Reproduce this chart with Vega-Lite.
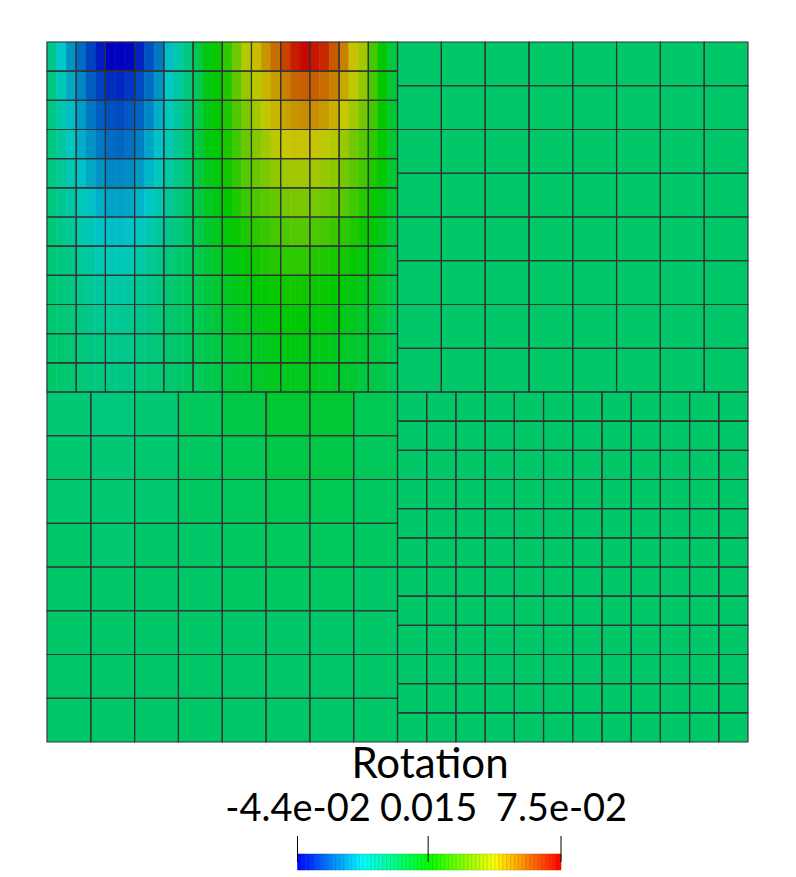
{"$schema":"https://vega.github.io/schema/vega-lite/v6.json","padding":{"left":46,"top":41,"right":0,"bottom":0},"background":"white","spacing":0,"resolve":{"scale":{"color":"independent"}},"config":{"view":{"stroke":null}},
"datasets":{
"fine":[
{"x0":0,"x1":2,"y0":0,"y1":6,"v":-0.005},{"x0":2,"x1":4,"y0":0,"y1":6,"v":-0.014},{"x0":4,"x1":6,"y0":0,"y1":6,"v":-0.022},{"x0":6,"x1":8,"y0":0,"y1":6,"v":-0.028},{"x0":8,"x1":10,"y0":0,"y1":6,"v":-0.034},{"x0":10,"x1":12,"y0":0,"y1":6,"v":-0.04},{"x0":12,"x1":14,"y0":0,"y1":6,"v":-0.044},{"x0":14,"x1":16,"y0":0,"y1":6,"v":-0.044},{"x0":16,"x1":18,"y0":0,"y1":6,"v":-0.043},{"x0":18,"x1":20,"y0":0,"y1":6,"v":-0.039},{"x0":20,"x1":22,"y0":0,"y1":6,"v":-0.032},{"x0":22,"x1":24,"y0":0,"y1":6,"v":-0.026},{"x0":24,"x1":26,"y0":0,"y1":6,"v":-0.016},{"x0":26,"x1":28,"y0":0,"y1":6,"v":-0.01},{"x0":28,"x1":30,"y0":0,"y1":6,"v":-0.004},{"x0":30,"x1":32,"y0":0,"y1":6,"v":0.004},{"x0":32,"x1":34,"y0":0,"y1":6,"v":0.013},{"x0":34,"x1":36,"y0":0,"y1":6,"v":0.017},{"x0":36,"x1":38,"y0":0,"y1":6,"v":0.022},{"x0":38,"x1":40,"y0":0,"y1":6,"v":0.032},{"x0":40,"x1":42,"y0":0,"y1":6,"v":0.042},{"x0":42,"x1":44,"y0":0,"y1":6,"v":0.047},{"x0":44,"x1":46,"y0":0,"y1":6,"v":0.053},{"x0":46,"x1":48,"y0":0,"y1":6,"v":0.059},{"x0":48,"x1":50,"y0":0,"y1":6,"v":0.065},{"x0":50,"x1":52,"y0":0,"y1":6,"v":0.071},{"x0":52,"x1":54,"y0":0,"y1":6,"v":0.074},{"x0":54,"x1":56,"y0":0,"y1":6,"v":0.072},{"x0":56,"x1":58,"y0":0,"y1":6,"v":0.069},{"x0":58,"x1":60,"y0":0,"y1":6,"v":0.062},{"x0":60,"x1":62,"y0":0,"y1":6,"v":0.056},{"x0":62,"x1":64,"y0":0,"y1":6,"v":0.046},{"x0":64,"x1":66,"y0":0,"y1":6,"v":0.04},{"x0":66,"x1":68,"y0":0,"y1":6,"v":0.026},{"x0":68,"x1":70,"y0":0,"y1":6,"v":0.015},{"x0":70,"x1":72,"y0":0,"y1":6,"v":0.006},
{"x0":0,"x1":2,"y0":6,"y1":12,"v":-0.004},{"x0":2,"x1":4,"y0":6,"y1":12,"v":-0.012},{"x0":4,"x1":6,"y0":6,"y1":12,"v":-0.019},{"x0":6,"x1":8,"y0":6,"y1":12,"v":-0.024},{"x0":8,"x1":10,"y0":6,"y1":12,"v":-0.03},{"x0":10,"x1":12,"y0":6,"y1":12,"v":-0.034},{"x0":12,"x1":14,"y0":6,"y1":12,"v":-0.037},{"x0":14,"x1":16,"y0":6,"y1":12,"v":-0.038},{"x0":16,"x1":18,"y0":6,"y1":12,"v":-0.036},{"x0":18,"x1":20,"y0":6,"y1":12,"v":-0.033},{"x0":20,"x1":22,"y0":6,"y1":12,"v":-0.028},{"x0":22,"x1":24,"y0":6,"y1":12,"v":-0.022},{"x0":24,"x1":26,"y0":6,"y1":12,"v":-0.014},{"x0":26,"x1":28,"y0":6,"y1":12,"v":-0.009},{"x0":28,"x1":30,"y0":6,"y1":12,"v":-0.003},{"x0":30,"x1":32,"y0":6,"y1":12,"v":0.003},{"x0":32,"x1":34,"y0":6,"y1":12,"v":0.012},{"x0":34,"x1":36,"y0":6,"y1":12,"v":0.016},{"x0":36,"x1":38,"y0":6,"y1":12,"v":0.02},{"x0":38,"x1":40,"y0":6,"y1":12,"v":0.03},{"x0":40,"x1":42,"y0":6,"y1":12,"v":0.038},{"x0":42,"x1":44,"y0":6,"y1":12,"v":0.043},{"x0":44,"x1":46,"y0":6,"y1":12,"v":0.048},{"x0":46,"x1":48,"y0":6,"y1":12,"v":0.052},{"x0":48,"x1":50,"y0":6,"y1":12,"v":0.056},{"x0":50,"x1":52,"y0":6,"y1":12,"v":0.06},{"x0":52,"x1":54,"y0":6,"y1":12,"v":0.061},{"x0":54,"x1":56,"y0":6,"y1":12,"v":0.061},{"x0":56,"x1":58,"y0":6,"y1":12,"v":0.059},{"x0":58,"x1":60,"y0":6,"y1":12,"v":0.056},{"x0":60,"x1":62,"y0":6,"y1":12,"v":0.05},{"x0":62,"x1":64,"y0":6,"y1":12,"v":0.044},{"x0":64,"x1":66,"y0":6,"y1":12,"v":0.037},{"x0":66,"x1":68,"y0":6,"y1":12,"v":0.026},{"x0":68,"x1":70,"y0":6,"y1":12,"v":0.016},{"x0":70,"x1":72,"y0":6,"y1":12,"v":0.007},
{"x0":0,"x1":2,"y0":12,"y1":18,"v":-0.004},{"x0":2,"x1":4,"y0":12,"y1":18,"v":-0.01},{"x0":4,"x1":6,"y0":12,"y1":18,"v":-0.016},{"x0":6,"x1":8,"y0":12,"y1":18,"v":-0.021},{"x0":8,"x1":10,"y0":12,"y1":18,"v":-0.026},{"x0":10,"x1":12,"y0":12,"y1":18,"v":-0.03},{"x0":12,"x1":14,"y0":12,"y1":18,"v":-0.032},{"x0":14,"x1":16,"y0":12,"y1":18,"v":-0.033},{"x0":16,"x1":18,"y0":12,"y1":18,"v":-0.031},{"x0":18,"x1":20,"y0":12,"y1":18,"v":-0.029},{"x0":20,"x1":22,"y0":12,"y1":18,"v":-0.024},{"x0":22,"x1":24,"y0":12,"y1":18,"v":-0.018},{"x0":24,"x1":26,"y0":12,"y1":18,"v":-0.013},{"x0":26,"x1":28,"y0":12,"y1":18,"v":-0.008},{"x0":28,"x1":30,"y0":12,"y1":18,"v":-0.002},{"x0":30,"x1":32,"y0":12,"y1":18,"v":0.004},{"x0":32,"x1":34,"y0":12,"y1":18,"v":0.012},{"x0":34,"x1":36,"y0":12,"y1":18,"v":0.016},{"x0":36,"x1":38,"y0":12,"y1":18,"v":0.02},{"x0":38,"x1":40,"y0":12,"y1":18,"v":0.027},{"x0":40,"x1":42,"y0":12,"y1":18,"v":0.034},{"x0":42,"x1":44,"y0":12,"y1":18,"v":0.04},{"x0":44,"x1":46,"y0":12,"y1":18,"v":0.044},{"x0":46,"x1":48,"y0":12,"y1":18,"v":0.048},{"x0":48,"x1":50,"y0":12,"y1":18,"v":0.051},{"x0":50,"x1":52,"y0":12,"y1":18,"v":0.053},{"x0":52,"x1":54,"y0":12,"y1":18,"v":0.054},{"x0":54,"x1":56,"y0":12,"y1":18,"v":0.054},{"x0":56,"x1":58,"y0":12,"y1":18,"v":0.052},{"x0":58,"x1":60,"y0":12,"y1":18,"v":0.049},{"x0":60,"x1":62,"y0":12,"y1":18,"v":0.045},{"x0":62,"x1":64,"y0":12,"y1":18,"v":0.04},{"x0":64,"x1":66,"y0":12,"y1":18,"v":0.033},{"x0":66,"x1":68,"y0":12,"y1":18,"v":0.025},{"x0":68,"x1":70,"y0":12,"y1":18,"v":0.016},{"x0":70,"x1":72,"y0":12,"y1":18,"v":0.008},
{"x0":0,"x1":2,"y0":18,"y1":24,"v":-0.003},{"x0":2,"x1":4,"y0":18,"y1":24,"v":-0.008},{"x0":4,"x1":6,"y0":18,"y1":24,"v":-0.013},{"x0":6,"x1":8,"y0":18,"y1":24,"v":-0.018},{"x0":8,"x1":10,"y0":18,"y1":24,"v":-0.022},{"x0":10,"x1":12,"y0":18,"y1":24,"v":-0.026},{"x0":12,"x1":14,"y0":18,"y1":24,"v":-0.028},{"x0":14,"x1":16,"y0":18,"y1":24,"v":-0.029},{"x0":16,"x1":18,"y0":18,"y1":24,"v":-0.027},{"x0":18,"x1":20,"y0":18,"y1":24,"v":-0.025},{"x0":20,"x1":22,"y0":18,"y1":24,"v":-0.02},{"x0":22,"x1":24,"y0":18,"y1":24,"v":-0.015},{"x0":24,"x1":26,"y0":18,"y1":24,"v":-0.011},{"x0":26,"x1":28,"y0":18,"y1":24,"v":-0.006},{"x0":28,"x1":30,"y0":18,"y1":24,"v":-0.001},{"x0":30,"x1":32,"y0":18,"y1":24,"v":0.005},{"x0":32,"x1":34,"y0":18,"y1":24,"v":0.012},{"x0":34,"x1":36,"y0":18,"y1":24,"v":0.015},{"x0":36,"x1":38,"y0":18,"y1":24,"v":0.019},{"x0":38,"x1":40,"y0":18,"y1":24,"v":0.025},{"x0":40,"x1":42,"y0":18,"y1":24,"v":0.031},{"x0":42,"x1":44,"y0":18,"y1":24,"v":0.035},{"x0":44,"x1":46,"y0":18,"y1":24,"v":0.039},{"x0":46,"x1":48,"y0":18,"y1":24,"v":0.043},{"x0":48,"x1":50,"y0":18,"y1":24,"v":0.045},{"x0":50,"x1":52,"y0":18,"y1":24,"v":0.046},{"x0":52,"x1":54,"y0":18,"y1":24,"v":0.046},{"x0":54,"x1":56,"y0":18,"y1":24,"v":0.046},{"x0":56,"x1":58,"y0":18,"y1":24,"v":0.044},{"x0":58,"x1":60,"y0":18,"y1":24,"v":0.042},{"x0":60,"x1":62,"y0":18,"y1":24,"v":0.038},{"x0":62,"x1":64,"y0":18,"y1":24,"v":0.033},{"x0":64,"x1":66,"y0":18,"y1":24,"v":0.028},{"x0":66,"x1":68,"y0":18,"y1":24,"v":0.022},{"x0":68,"x1":70,"y0":18,"y1":24,"v":0.015},{"x0":70,"x1":72,"y0":18,"y1":24,"v":0.008},
{"x0":0,"x1":2,"y0":24,"y1":30,"v":-0.003},{"x0":2,"x1":4,"y0":24,"y1":30,"v":-0.007},{"x0":4,"x1":6,"y0":24,"y1":30,"v":-0.011},{"x0":6,"x1":8,"y0":24,"y1":30,"v":-0.015},{"x0":8,"x1":10,"y0":24,"y1":30,"v":-0.019},{"x0":10,"x1":12,"y0":24,"y1":30,"v":-0.022},{"x0":12,"x1":14,"y0":24,"y1":30,"v":-0.024},{"x0":14,"x1":16,"y0":24,"y1":30,"v":-0.024},{"x0":16,"x1":18,"y0":24,"y1":30,"v":-0.023},{"x0":18,"x1":20,"y0":24,"y1":30,"v":-0.021},{"x0":20,"x1":22,"y0":24,"y1":30,"v":-0.017},{"x0":22,"x1":24,"y0":24,"y1":30,"v":-0.013},{"x0":24,"x1":26,"y0":24,"y1":30,"v":-0.009},{"x0":26,"x1":28,"y0":24,"y1":30,"v":-0.005},{"x0":28,"x1":30,"y0":24,"y1":30,"v":-0.001},{"x0":30,"x1":32,"y0":24,"y1":30,"v":0.005},{"x0":32,"x1":34,"y0":24,"y1":30,"v":0.011},{"x0":34,"x1":36,"y0":24,"y1":30,"v":0.014},{"x0":36,"x1":38,"y0":24,"y1":30,"v":0.018},{"x0":38,"x1":40,"y0":24,"y1":30,"v":0.023},{"x0":40,"x1":42,"y0":24,"y1":30,"v":0.028},{"x0":42,"x1":44,"y0":24,"y1":30,"v":0.031},{"x0":44,"x1":46,"y0":24,"y1":30,"v":0.034},{"x0":46,"x1":48,"y0":24,"y1":30,"v":0.037},{"x0":48,"x1":50,"y0":24,"y1":30,"v":0.039},{"x0":50,"x1":52,"y0":24,"y1":30,"v":0.04},{"x0":52,"x1":54,"y0":24,"y1":30,"v":0.04},{"x0":54,"x1":56,"y0":24,"y1":30,"v":0.04},{"x0":56,"x1":58,"y0":24,"y1":30,"v":0.038},{"x0":58,"x1":60,"y0":24,"y1":30,"v":0.036},{"x0":60,"x1":62,"y0":24,"y1":30,"v":0.033},{"x0":62,"x1":64,"y0":24,"y1":30,"v":0.029},{"x0":64,"x1":66,"y0":24,"y1":30,"v":0.025},{"x0":66,"x1":68,"y0":24,"y1":30,"v":0.02},{"x0":68,"x1":70,"y0":24,"y1":30,"v":0.015},{"x0":70,"x1":72,"y0":24,"y1":30,"v":0.008},
{"x0":0,"x1":2,"y0":30,"y1":36,"v":-0.003},{"x0":2,"x1":4,"y0":30,"y1":36,"v":-0.006},{"x0":4,"x1":6,"y0":30,"y1":36,"v":-0.009},{"x0":6,"x1":8,"y0":30,"y1":36,"v":-0.012},{"x0":8,"x1":10,"y0":30,"y1":36,"v":-0.015},{"x0":10,"x1":12,"y0":30,"y1":36,"v":-0.018},{"x0":12,"x1":14,"y0":30,"y1":36,"v":-0.02},{"x0":14,"x1":16,"y0":30,"y1":36,"v":-0.02},{"x0":16,"x1":18,"y0":30,"y1":36,"v":-0.019},{"x0":18,"x1":20,"y0":30,"y1":36,"v":-0.017},{"x0":20,"x1":22,"y0":30,"y1":36,"v":-0.014},{"x0":22,"x1":24,"y0":30,"y1":36,"v":-0.011},{"x0":24,"x1":26,"y0":30,"y1":36,"v":-0.007},{"x0":26,"x1":28,"y0":30,"y1":36,"v":-0.004},{"x0":28,"x1":30,"y0":30,"y1":36,"v":0},{"x0":30,"x1":32,"y0":30,"y1":36,"v":0.005},{"x0":32,"x1":34,"y0":30,"y1":36,"v":0.01},{"x0":34,"x1":36,"y0":30,"y1":36,"v":0.013},{"x0":36,"x1":38,"y0":30,"y1":36,"v":0.016},{"x0":38,"x1":40,"y0":30,"y1":36,"v":0.02},{"x0":40,"x1":42,"y0":30,"y1":36,"v":0.024},{"x0":42,"x1":44,"y0":30,"y1":36,"v":0.027},{"x0":44,"x1":46,"y0":30,"y1":36,"v":0.029},{"x0":46,"x1":48,"y0":30,"y1":36,"v":0.031},{"x0":48,"x1":50,"y0":30,"y1":36,"v":0.033},{"x0":50,"x1":52,"y0":30,"y1":36,"v":0.034},{"x0":52,"x1":54,"y0":30,"y1":36,"v":0.034},{"x0":54,"x1":56,"y0":30,"y1":36,"v":0.033},{"x0":56,"x1":58,"y0":30,"y1":36,"v":0.032},{"x0":58,"x1":60,"y0":30,"y1":36,"v":0.03},{"x0":60,"x1":62,"y0":30,"y1":36,"v":0.028},{"x0":62,"x1":64,"y0":30,"y1":36,"v":0.025},{"x0":64,"x1":66,"y0":30,"y1":36,"v":0.021},{"x0":66,"x1":68,"y0":30,"y1":36,"v":0.017},{"x0":68,"x1":70,"y0":30,"y1":36,"v":0.013},{"x0":70,"x1":72,"y0":30,"y1":36,"v":0.008},
{"x0":0,"x1":2,"y0":36,"y1":42,"v":-0.002},{"x0":2,"x1":4,"y0":36,"y1":42,"v":-0.005},{"x0":4,"x1":6,"y0":36,"y1":42,"v":-0.007},{"x0":6,"x1":8,"y0":36,"y1":42,"v":-0.01},{"x0":8,"x1":10,"y0":36,"y1":42,"v":-0.012},{"x0":10,"x1":12,"y0":36,"y1":42,"v":-0.015},{"x0":12,"x1":14,"y0":36,"y1":42,"v":-0.016},{"x0":14,"x1":16,"y0":36,"y1":42,"v":-0.016},{"x0":16,"x1":18,"y0":36,"y1":42,"v":-0.015},{"x0":18,"x1":20,"y0":36,"y1":42,"v":-0.013},{"x0":20,"x1":22,"y0":36,"y1":42,"v":-0.011},{"x0":22,"x1":24,"y0":36,"y1":42,"v":-0.008},{"x0":24,"x1":26,"y0":36,"y1":42,"v":-0.005},{"x0":26,"x1":28,"y0":36,"y1":42,"v":-0.003},{"x0":28,"x1":30,"y0":36,"y1":42,"v":0},{"x0":30,"x1":32,"y0":36,"y1":42,"v":0.004},{"x0":32,"x1":34,"y0":36,"y1":42,"v":0.008},{"x0":34,"x1":36,"y0":36,"y1":42,"v":0.011},{"x0":36,"x1":38,"y0":36,"y1":42,"v":0.014},{"x0":38,"x1":40,"y0":36,"y1":42,"v":0.017},{"x0":40,"x1":42,"y0":36,"y1":42,"v":0.02},{"x0":42,"x1":44,"y0":36,"y1":42,"v":0.022},{"x0":44,"x1":46,"y0":36,"y1":42,"v":0.024},{"x0":46,"x1":48,"y0":36,"y1":42,"v":0.026},{"x0":48,"x1":50,"y0":36,"y1":42,"v":0.027},{"x0":50,"x1":52,"y0":36,"y1":42,"v":0.028},{"x0":52,"x1":54,"y0":36,"y1":42,"v":0.028},{"x0":54,"x1":56,"y0":36,"y1":42,"v":0.027},{"x0":56,"x1":58,"y0":36,"y1":42,"v":0.026},{"x0":58,"x1":60,"y0":36,"y1":42,"v":0.024},{"x0":60,"x1":62,"y0":36,"y1":42,"v":0.022},{"x0":62,"x1":64,"y0":36,"y1":42,"v":0.02},{"x0":64,"x1":66,"y0":36,"y1":42,"v":0.017},{"x0":66,"x1":68,"y0":36,"y1":42,"v":0.015},{"x0":68,"x1":70,"y0":36,"y1":42,"v":0.011},{"x0":70,"x1":72,"y0":36,"y1":42,"v":0.006},
{"x0":0,"x1":2,"y0":42,"y1":48,"v":-0.002},{"x0":2,"x1":4,"y0":42,"y1":48,"v":-0.004},{"x0":4,"x1":6,"y0":42,"y1":48,"v":-0.005},{"x0":6,"x1":8,"y0":42,"y1":48,"v":-0.007},{"x0":8,"x1":10,"y0":42,"y1":48,"v":-0.009},{"x0":10,"x1":12,"y0":42,"y1":48,"v":-0.011},{"x0":12,"x1":14,"y0":42,"y1":48,"v":-0.012},{"x0":14,"x1":16,"y0":42,"y1":48,"v":-0.012},{"x0":16,"x1":18,"y0":42,"y1":48,"v":-0.011},{"x0":18,"x1":20,"y0":42,"y1":48,"v":-0.009},{"x0":20,"x1":22,"y0":42,"y1":48,"v":-0.007},{"x0":22,"x1":24,"y0":42,"y1":48,"v":-0.005},{"x0":24,"x1":26,"y0":42,"y1":48,"v":-0.003},{"x0":26,"x1":28,"y0":42,"y1":48,"v":-0.001},{"x0":28,"x1":30,"y0":42,"y1":48,"v":0.001},{"x0":30,"x1":32,"y0":42,"y1":48,"v":0.004},{"x0":32,"x1":34,"y0":42,"y1":48,"v":0.007},{"x0":34,"x1":36,"y0":42,"y1":48,"v":0.01},{"x0":36,"x1":38,"y0":42,"y1":48,"v":0.012},{"x0":38,"x1":40,"y0":42,"y1":48,"v":0.014},{"x0":40,"x1":42,"y0":42,"y1":48,"v":0.016},{"x0":42,"x1":44,"y0":42,"y1":48,"v":0.018},{"x0":44,"x1":46,"y0":42,"y1":48,"v":0.02},{"x0":46,"x1":48,"y0":42,"y1":48,"v":0.021},{"x0":48,"x1":50,"y0":42,"y1":48,"v":0.022},{"x0":50,"x1":52,"y0":42,"y1":48,"v":0.022},{"x0":52,"x1":54,"y0":42,"y1":48,"v":0.022},{"x0":54,"x1":56,"y0":42,"y1":48,"v":0.021},{"x0":56,"x1":58,"y0":42,"y1":48,"v":0.02},{"x0":58,"x1":60,"y0":42,"y1":48,"v":0.019},{"x0":60,"x1":62,"y0":42,"y1":48,"v":0.018},{"x0":62,"x1":64,"y0":42,"y1":48,"v":0.016},{"x0":64,"x1":66,"y0":42,"y1":48,"v":0.014},{"x0":66,"x1":68,"y0":42,"y1":48,"v":0.012},{"x0":68,"x1":70,"y0":42,"y1":48,"v":0.009},{"x0":70,"x1":72,"y0":42,"y1":48,"v":0.005},
{"x0":0,"x1":2,"y0":48,"y1":54,"v":-0.001},{"x0":2,"x1":4,"y0":48,"y1":54,"v":-0.003},{"x0":4,"x1":6,"y0":48,"y1":54,"v":-0.004},{"x0":6,"x1":8,"y0":48,"y1":54,"v":-0.005},{"x0":8,"x1":10,"y0":48,"y1":54,"v":-0.007},{"x0":10,"x1":12,"y0":48,"y1":54,"v":-0.008},{"x0":12,"x1":14,"y0":48,"y1":54,"v":-0.009},{"x0":14,"x1":16,"y0":48,"y1":54,"v":-0.009},{"x0":16,"x1":18,"y0":48,"y1":54,"v":-0.008},{"x0":18,"x1":20,"y0":48,"y1":54,"v":-0.007},{"x0":20,"x1":22,"y0":48,"y1":54,"v":-0.005},{"x0":22,"x1":24,"y0":48,"y1":54,"v":-0.004},{"x0":24,"x1":26,"y0":48,"y1":54,"v":-0.002},{"x0":26,"x1":28,"y0":48,"y1":54,"v":0},{"x0":28,"x1":30,"y0":48,"y1":54,"v":0.002},{"x0":30,"x1":32,"y0":48,"y1":54,"v":0.004},{"x0":32,"x1":34,"y0":48,"y1":54,"v":0.006},{"x0":34,"x1":36,"y0":48,"y1":54,"v":0.008},{"x0":36,"x1":38,"y0":48,"y1":54,"v":0.01},{"x0":38,"x1":40,"y0":48,"y1":54,"v":0.012},{"x0":40,"x1":42,"y0":48,"y1":54,"v":0.013},{"x0":42,"x1":44,"y0":48,"y1":54,"v":0.015},{"x0":44,"x1":46,"y0":48,"y1":54,"v":0.016},{"x0":46,"x1":48,"y0":48,"y1":54,"v":0.017},{"x0":48,"x1":50,"y0":48,"y1":54,"v":0.018},{"x0":50,"x1":52,"y0":48,"y1":54,"v":0.018},{"x0":52,"x1":54,"y0":48,"y1":54,"v":0.018},{"x0":54,"x1":56,"y0":48,"y1":54,"v":0.017},{"x0":56,"x1":58,"y0":48,"y1":54,"v":0.017},{"x0":58,"x1":60,"y0":48,"y1":54,"v":0.016},{"x0":60,"x1":62,"y0":48,"y1":54,"v":0.015},{"x0":62,"x1":64,"y0":48,"y1":54,"v":0.013},{"x0":64,"x1":66,"y0":48,"y1":54,"v":0.012},{"x0":66,"x1":68,"y0":48,"y1":54,"v":0.01},{"x0":68,"x1":70,"y0":48,"y1":54,"v":0.007},{"x0":70,"x1":72,"y0":48,"y1":54,"v":0.004},
{"x0":0,"x1":2,"y0":54,"y1":60,"v":-0.001},{"x0":2,"x1":4,"y0":54,"y1":60,"v":-0.002},{"x0":4,"x1":6,"y0":54,"y1":60,"v":-0.003},{"x0":6,"x1":8,"y0":54,"y1":60,"v":-0.004},{"x0":8,"x1":10,"y0":54,"y1":60,"v":-0.005},{"x0":10,"x1":12,"y0":54,"y1":60,"v":-0.006},{"x0":12,"x1":14,"y0":54,"y1":60,"v":-0.007},{"x0":14,"x1":16,"y0":54,"y1":60,"v":-0.007},{"x0":16,"x1":18,"y0":54,"y1":60,"v":-0.006},{"x0":18,"x1":20,"y0":54,"y1":60,"v":-0.005},{"x0":20,"x1":22,"y0":54,"y1":60,"v":-0.004},{"x0":22,"x1":24,"y0":54,"y1":60,"v":-0.003},{"x0":24,"x1":26,"y0":54,"y1":60,"v":-0.001},{"x0":26,"x1":28,"y0":54,"y1":60,"v":0},{"x0":28,"x1":30,"y0":54,"y1":60,"v":0.002},{"x0":30,"x1":32,"y0":54,"y1":60,"v":0.003},{"x0":32,"x1":34,"y0":54,"y1":60,"v":0.005},{"x0":34,"x1":36,"y0":54,"y1":60,"v":0.007},{"x0":36,"x1":38,"y0":54,"y1":60,"v":0.008},{"x0":38,"x1":40,"y0":54,"y1":60,"v":0.01},{"x0":40,"x1":42,"y0":54,"y1":60,"v":0.011},{"x0":42,"x1":44,"y0":54,"y1":60,"v":0.012},{"x0":44,"x1":46,"y0":54,"y1":60,"v":0.013},{"x0":46,"x1":48,"y0":54,"y1":60,"v":0.014},{"x0":48,"x1":50,"y0":54,"y1":60,"v":0.015},{"x0":50,"x1":52,"y0":54,"y1":60,"v":0.015},{"x0":52,"x1":54,"y0":54,"y1":60,"v":0.015},{"x0":54,"x1":56,"y0":54,"y1":60,"v":0.014},{"x0":56,"x1":58,"y0":54,"y1":60,"v":0.014},{"x0":58,"x1":60,"y0":54,"y1":60,"v":0.013},{"x0":60,"x1":62,"y0":54,"y1":60,"v":0.012},{"x0":62,"x1":64,"y0":54,"y1":60,"v":0.011},{"x0":64,"x1":66,"y0":54,"y1":60,"v":0.009},{"x0":66,"x1":68,"y0":54,"y1":60,"v":0.008},{"x0":68,"x1":70,"y0":54,"y1":60,"v":0.006},{"x0":70,"x1":72,"y0":54,"y1":60,"v":0.003},
{"x0":0,"x1":2,"y0":60,"y1":66,"v":-0.001},{"x0":2,"x1":4,"y0":60,"y1":66,"v":-0.001},{"x0":4,"x1":6,"y0":60,"y1":66,"v":-0.002},{"x0":6,"x1":8,"y0":60,"y1":66,"v":-0.003},{"x0":8,"x1":10,"y0":60,"y1":66,"v":-0.004},{"x0":10,"x1":12,"y0":60,"y1":66,"v":-0.004},{"x0":12,"x1":14,"y0":60,"y1":66,"v":-0.005},{"x0":14,"x1":16,"y0":60,"y1":66,"v":-0.005},{"x0":16,"x1":18,"y0":60,"y1":66,"v":-0.005},{"x0":18,"x1":20,"y0":60,"y1":66,"v":-0.004},{"x0":20,"x1":22,"y0":60,"y1":66,"v":-0.003},{"x0":22,"x1":24,"y0":60,"y1":66,"v":-0.002},{"x0":24,"x1":26,"y0":60,"y1":66,"v":-0.001},{"x0":26,"x1":28,"y0":60,"y1":66,"v":0},{"x0":28,"x1":30,"y0":60,"y1":66,"v":0.001},{"x0":30,"x1":32,"y0":60,"y1":66,"v":0.003},{"x0":32,"x1":34,"y0":60,"y1":66,"v":0.004},{"x0":34,"x1":36,"y0":60,"y1":66,"v":0.006},{"x0":36,"x1":38,"y0":60,"y1":66,"v":0.007},{"x0":38,"x1":40,"y0":60,"y1":66,"v":0.008},{"x0":40,"x1":42,"y0":60,"y1":66,"v":0.009},{"x0":42,"x1":44,"y0":60,"y1":66,"v":0.01},{"x0":44,"x1":46,"y0":60,"y1":66,"v":0.011},{"x0":46,"x1":48,"y0":60,"y1":66,"v":0.012},{"x0":48,"x1":50,"y0":60,"y1":66,"v":0.013},{"x0":50,"x1":52,"y0":60,"y1":66,"v":0.013},{"x0":52,"x1":54,"y0":60,"y1":66,"v":0.013},{"x0":54,"x1":56,"y0":60,"y1":66,"v":0.012},{"x0":56,"x1":58,"y0":60,"y1":66,"v":0.012},{"x0":58,"x1":60,"y0":60,"y1":66,"v":0.011},{"x0":60,"x1":62,"y0":60,"y1":66,"v":0.01},{"x0":62,"x1":64,"y0":60,"y1":66,"v":0.009},{"x0":64,"x1":66,"y0":60,"y1":66,"v":0.008},{"x0":66,"x1":68,"y0":60,"y1":66,"v":0.006},{"x0":68,"x1":70,"y0":60,"y1":66,"v":0.005},{"x0":70,"x1":72,"y0":60,"y1":66,"v":0.003},
{"x0":0,"x1":2,"y0":66,"y1":72,"v":0},{"x0":2,"x1":4,"y0":66,"y1":72,"v":-0.001},{"x0":4,"x1":6,"y0":66,"y1":72,"v":-0.001},{"x0":6,"x1":8,"y0":66,"y1":72,"v":-0.002},{"x0":8,"x1":10,"y0":66,"y1":72,"v":-0.003},{"x0":10,"x1":12,"y0":66,"y1":72,"v":-0.003},{"x0":12,"x1":14,"y0":66,"y1":72,"v":-0.004},{"x0":14,"x1":16,"y0":66,"y1":72,"v":-0.004},{"x0":16,"x1":18,"y0":66,"y1":72,"v":-0.004},{"x0":18,"x1":20,"y0":66,"y1":72,"v":-0.003},{"x0":20,"x1":22,"y0":66,"y1":72,"v":-0.002},{"x0":22,"x1":24,"y0":66,"y1":72,"v":-0.002},{"x0":24,"x1":26,"y0":66,"y1":72,"v":-0.001},{"x0":26,"x1":28,"y0":66,"y1":72,"v":0},{"x0":28,"x1":30,"y0":66,"y1":72,"v":0.001},{"x0":30,"x1":32,"y0":66,"y1":72,"v":0.002},{"x0":32,"x1":34,"y0":66,"y1":72,"v":0.003},{"x0":34,"x1":36,"y0":66,"y1":72,"v":0.005},{"x0":36,"x1":38,"y0":66,"y1":72,"v":0.006},{"x0":38,"x1":40,"y0":66,"y1":72,"v":0.007},{"x0":40,"x1":42,"y0":66,"y1":72,"v":0.008},{"x0":42,"x1":44,"y0":66,"y1":72,"v":0.009},{"x0":44,"x1":46,"y0":66,"y1":72,"v":0.01},{"x0":46,"x1":48,"y0":66,"y1":72,"v":0.011},{"x0":48,"x1":50,"y0":66,"y1":72,"v":0.011},{"x0":50,"x1":52,"y0":66,"y1":72,"v":0.011},{"x0":52,"x1":54,"y0":66,"y1":72,"v":0.011},{"x0":54,"x1":56,"y0":66,"y1":72,"v":0.011},{"x0":56,"x1":58,"y0":66,"y1":72,"v":0.01},{"x0":58,"x1":60,"y0":66,"y1":72,"v":0.01},{"x0":60,"x1":62,"y0":66,"y1":72,"v":0.009},{"x0":62,"x1":64,"y0":66,"y1":72,"v":0.008},{"x0":64,"x1":66,"y0":66,"y1":72,"v":0.006},{"x0":66,"x1":68,"y0":66,"y1":72,"v":0.005},{"x0":68,"x1":70,"y0":66,"y1":72,"v":0.004},{"x0":70,"x1":72,"y0":66,"y1":72,"v":0.002}
],
"elements":[
{"x0":0,"x1":6,"y0":0,"y1":6},{"x0":6,"x1":12,"y0":0,"y1":6},{"x0":12,"x1":18,"y0":0,"y1":6},{"x0":18,"x1":24,"y0":0,"y1":6},{"x0":24,"x1":30,"y0":0,"y1":6},{"x0":30,"x1":36,"y0":0,"y1":6},{"x0":36,"x1":42,"y0":0,"y1":6},{"x0":42,"x1":48,"y0":0,"y1":6},{"x0":48,"x1":54,"y0":0,"y1":6},{"x0":54,"x1":60,"y0":0,"y1":6},{"x0":60,"x1":66,"y0":0,"y1":6},{"x0":66,"x1":72,"y0":0,"y1":6},
{"x0":0,"x1":6,"y0":6,"y1":12},{"x0":6,"x1":12,"y0":6,"y1":12},{"x0":12,"x1":18,"y0":6,"y1":12},{"x0":18,"x1":24,"y0":6,"y1":12},{"x0":24,"x1":30,"y0":6,"y1":12},{"x0":30,"x1":36,"y0":6,"y1":12},{"x0":36,"x1":42,"y0":6,"y1":12},{"x0":42,"x1":48,"y0":6,"y1":12},{"x0":48,"x1":54,"y0":6,"y1":12},{"x0":54,"x1":60,"y0":6,"y1":12},{"x0":60,"x1":66,"y0":6,"y1":12},{"x0":66,"x1":72,"y0":6,"y1":12},
{"x0":0,"x1":6,"y0":12,"y1":18},{"x0":6,"x1":12,"y0":12,"y1":18},{"x0":12,"x1":18,"y0":12,"y1":18},{"x0":18,"x1":24,"y0":12,"y1":18},{"x0":24,"x1":30,"y0":12,"y1":18},{"x0":30,"x1":36,"y0":12,"y1":18},{"x0":36,"x1":42,"y0":12,"y1":18},{"x0":42,"x1":48,"y0":12,"y1":18},{"x0":48,"x1":54,"y0":12,"y1":18},{"x0":54,"x1":60,"y0":12,"y1":18},{"x0":60,"x1":66,"y0":12,"y1":18},{"x0":66,"x1":72,"y0":12,"y1":18},
{"x0":0,"x1":6,"y0":18,"y1":24},{"x0":6,"x1":12,"y0":18,"y1":24},{"x0":12,"x1":18,"y0":18,"y1":24},{"x0":18,"x1":24,"y0":18,"y1":24},{"x0":24,"x1":30,"y0":18,"y1":24},{"x0":30,"x1":36,"y0":18,"y1":24},{"x0":36,"x1":42,"y0":18,"y1":24},{"x0":42,"x1":48,"y0":18,"y1":24},{"x0":48,"x1":54,"y0":18,"y1":24},{"x0":54,"x1":60,"y0":18,"y1":24},{"x0":60,"x1":66,"y0":18,"y1":24},{"x0":66,"x1":72,"y0":18,"y1":24},
{"x0":0,"x1":6,"y0":24,"y1":30},{"x0":6,"x1":12,"y0":24,"y1":30},{"x0":12,"x1":18,"y0":24,"y1":30},{"x0":18,"x1":24,"y0":24,"y1":30},{"x0":24,"x1":30,"y0":24,"y1":30},{"x0":30,"x1":36,"y0":24,"y1":30},{"x0":36,"x1":42,"y0":24,"y1":30},{"x0":42,"x1":48,"y0":24,"y1":30},{"x0":48,"x1":54,"y0":24,"y1":30},{"x0":54,"x1":60,"y0":24,"y1":30},{"x0":60,"x1":66,"y0":24,"y1":30},{"x0":66,"x1":72,"y0":24,"y1":30},
{"x0":0,"x1":6,"y0":30,"y1":36},{"x0":6,"x1":12,"y0":30,"y1":36},{"x0":12,"x1":18,"y0":30,"y1":36},{"x0":18,"x1":24,"y0":30,"y1":36},{"x0":24,"x1":30,"y0":30,"y1":36},{"x0":30,"x1":36,"y0":30,"y1":36},{"x0":36,"x1":42,"y0":30,"y1":36},{"x0":42,"x1":48,"y0":30,"y1":36},{"x0":48,"x1":54,"y0":30,"y1":36},{"x0":54,"x1":60,"y0":30,"y1":36},{"x0":60,"x1":66,"y0":30,"y1":36},{"x0":66,"x1":72,"y0":30,"y1":36},
{"x0":0,"x1":6,"y0":36,"y1":42},{"x0":6,"x1":12,"y0":36,"y1":42},{"x0":12,"x1":18,"y0":36,"y1":42},{"x0":18,"x1":24,"y0":36,"y1":42},{"x0":24,"x1":30,"y0":36,"y1":42},{"x0":30,"x1":36,"y0":36,"y1":42},{"x0":36,"x1":42,"y0":36,"y1":42},{"x0":42,"x1":48,"y0":36,"y1":42},{"x0":48,"x1":54,"y0":36,"y1":42},{"x0":54,"x1":60,"y0":36,"y1":42},{"x0":60,"x1":66,"y0":36,"y1":42},{"x0":66,"x1":72,"y0":36,"y1":42},
{"x0":0,"x1":6,"y0":42,"y1":48},{"x0":6,"x1":12,"y0":42,"y1":48},{"x0":12,"x1":18,"y0":42,"y1":48},{"x0":18,"x1":24,"y0":42,"y1":48},{"x0":24,"x1":30,"y0":42,"y1":48},{"x0":30,"x1":36,"y0":42,"y1":48},{"x0":36,"x1":42,"y0":42,"y1":48},{"x0":42,"x1":48,"y0":42,"y1":48},{"x0":48,"x1":54,"y0":42,"y1":48},{"x0":54,"x1":60,"y0":42,"y1":48},{"x0":60,"x1":66,"y0":42,"y1":48},{"x0":66,"x1":72,"y0":42,"y1":48},
{"x0":0,"x1":6,"y0":48,"y1":54},{"x0":6,"x1":12,"y0":48,"y1":54},{"x0":12,"x1":18,"y0":48,"y1":54},{"x0":18,"x1":24,"y0":48,"y1":54},{"x0":24,"x1":30,"y0":48,"y1":54},{"x0":30,"x1":36,"y0":48,"y1":54},{"x0":36,"x1":42,"y0":48,"y1":54},{"x0":42,"x1":48,"y0":48,"y1":54},{"x0":48,"x1":54,"y0":48,"y1":54},{"x0":54,"x1":60,"y0":48,"y1":54},{"x0":60,"x1":66,"y0":48,"y1":54},{"x0":66,"x1":72,"y0":48,"y1":54},
{"x0":0,"x1":6,"y0":54,"y1":60},{"x0":6,"x1":12,"y0":54,"y1":60},{"x0":12,"x1":18,"y0":54,"y1":60},{"x0":18,"x1":24,"y0":54,"y1":60},{"x0":24,"x1":30,"y0":54,"y1":60},{"x0":30,"x1":36,"y0":54,"y1":60},{"x0":36,"x1":42,"y0":54,"y1":60},{"x0":42,"x1":48,"y0":54,"y1":60},{"x0":48,"x1":54,"y0":54,"y1":60},{"x0":54,"x1":60,"y0":54,"y1":60},{"x0":60,"x1":66,"y0":54,"y1":60},{"x0":66,"x1":72,"y0":54,"y1":60},
{"x0":0,"x1":6,"y0":60,"y1":66},{"x0":6,"x1":12,"y0":60,"y1":66},{"x0":12,"x1":18,"y0":60,"y1":66},{"x0":18,"x1":24,"y0":60,"y1":66},{"x0":24,"x1":30,"y0":60,"y1":66},{"x0":30,"x1":36,"y0":60,"y1":66},{"x0":36,"x1":42,"y0":60,"y1":66},{"x0":42,"x1":48,"y0":60,"y1":66},{"x0":48,"x1":54,"y0":60,"y1":66},{"x0":54,"x1":60,"y0":60,"y1":66},{"x0":60,"x1":66,"y0":60,"y1":66},{"x0":66,"x1":72,"y0":60,"y1":66},
{"x0":0,"x1":6,"y0":66,"y1":72},{"x0":6,"x1":12,"y0":66,"y1":72},{"x0":12,"x1":18,"y0":66,"y1":72},{"x0":18,"x1":24,"y0":66,"y1":72},{"x0":24,"x1":30,"y0":66,"y1":72},{"x0":30,"x1":36,"y0":66,"y1":72},{"x0":36,"x1":42,"y0":66,"y1":72},{"x0":42,"x1":48,"y0":66,"y1":72},{"x0":48,"x1":54,"y0":66,"y1":72},{"x0":54,"x1":60,"y0":66,"y1":72},{"x0":60,"x1":66,"y0":66,"y1":72},{"x0":66,"x1":72,"y0":66,"y1":72},
{"x0":72,"x1":81,"y0":0,"y1":9,"v":0},{"x0":81,"x1":90,"y0":0,"y1":9,"v":0},{"x0":90,"x1":99,"y0":0,"y1":9,"v":0},{"x0":99,"x1":108,"y0":0,"y1":9,"v":0},{"x0":108,"x1":117,"y0":0,"y1":9,"v":0},{"x0":117,"x1":126,"y0":0,"y1":9,"v":0},{"x0":126,"x1":135,"y0":0,"y1":9,"v":0},{"x0":135,"x1":144,"y0":0,"y1":9,"v":0},
{"x0":72,"x1":81,"y0":9,"y1":18,"v":0},{"x0":81,"x1":90,"y0":9,"y1":18,"v":0},{"x0":90,"x1":99,"y0":9,"y1":18,"v":0},{"x0":99,"x1":108,"y0":9,"y1":18,"v":0},{"x0":108,"x1":117,"y0":9,"y1":18,"v":0},{"x0":117,"x1":126,"y0":9,"y1":18,"v":0},{"x0":126,"x1":135,"y0":9,"y1":18,"v":0},{"x0":135,"x1":144,"y0":9,"y1":18,"v":0},
{"x0":72,"x1":81,"y0":18,"y1":27,"v":0},{"x0":81,"x1":90,"y0":18,"y1":27,"v":0},{"x0":90,"x1":99,"y0":18,"y1":27,"v":0},{"x0":99,"x1":108,"y0":18,"y1":27,"v":0},{"x0":108,"x1":117,"y0":18,"y1":27,"v":0},{"x0":117,"x1":126,"y0":18,"y1":27,"v":0},{"x0":126,"x1":135,"y0":18,"y1":27,"v":0},{"x0":135,"x1":144,"y0":18,"y1":27,"v":0},
{"x0":72,"x1":81,"y0":27,"y1":36,"v":0},{"x0":81,"x1":90,"y0":27,"y1":36,"v":0},{"x0":90,"x1":99,"y0":27,"y1":36,"v":0},{"x0":99,"x1":108,"y0":27,"y1":36,"v":0},{"x0":108,"x1":117,"y0":27,"y1":36,"v":0},{"x0":117,"x1":126,"y0":27,"y1":36,"v":0},{"x0":126,"x1":135,"y0":27,"y1":36,"v":0},{"x0":135,"x1":144,"y0":27,"y1":36,"v":0},
{"x0":72,"x1":81,"y0":36,"y1":45,"v":0},{"x0":81,"x1":90,"y0":36,"y1":45,"v":0},{"x0":90,"x1":99,"y0":36,"y1":45,"v":0},{"x0":99,"x1":108,"y0":36,"y1":45,"v":0},{"x0":108,"x1":117,"y0":36,"y1":45,"v":0},{"x0":117,"x1":126,"y0":36,"y1":45,"v":0},{"x0":126,"x1":135,"y0":36,"y1":45,"v":0},{"x0":135,"x1":144,"y0":36,"y1":45,"v":0},
{"x0":72,"x1":81,"y0":45,"y1":54,"v":0},{"x0":81,"x1":90,"y0":45,"y1":54,"v":0},{"x0":90,"x1":99,"y0":45,"y1":54,"v":0},{"x0":99,"x1":108,"y0":45,"y1":54,"v":0},{"x0":108,"x1":117,"y0":45,"y1":54,"v":0},{"x0":117,"x1":126,"y0":45,"y1":54,"v":0},{"x0":126,"x1":135,"y0":45,"y1":54,"v":0},{"x0":135,"x1":144,"y0":45,"y1":54,"v":0},
{"x0":72,"x1":81,"y0":54,"y1":63,"v":0},{"x0":81,"x1":90,"y0":54,"y1":63,"v":0},{"x0":90,"x1":99,"y0":54,"y1":63,"v":0},{"x0":99,"x1":108,"y0":54,"y1":63,"v":0},{"x0":108,"x1":117,"y0":54,"y1":63,"v":0},{"x0":117,"x1":126,"y0":54,"y1":63,"v":0},{"x0":126,"x1":135,"y0":54,"y1":63,"v":0},{"x0":135,"x1":144,"y0":54,"y1":63,"v":0},
{"x0":72,"x1":81,"y0":63,"y1":72,"v":0},{"x0":81,"x1":90,"y0":63,"y1":72,"v":0},{"x0":90,"x1":99,"y0":63,"y1":72,"v":0},{"x0":99,"x1":108,"y0":63,"y1":72,"v":0},{"x0":108,"x1":117,"y0":63,"y1":72,"v":0},{"x0":117,"x1":126,"y0":63,"y1":72,"v":0},{"x0":126,"x1":135,"y0":63,"y1":72,"v":0},{"x0":135,"x1":144,"y0":63,"y1":72,"v":0},
{"x0":0,"x1":9,"y0":72,"y1":81,"v":-0.002},{"x0":9,"x1":18,"y0":72,"y1":81,"v":-0.003},{"x0":18,"x1":27,"y0":72,"y1":81,"v":-0.002},{"x0":27,"x1":36,"y0":72,"y1":81,"v":0.002},{"x0":36,"x1":45,"y0":72,"y1":81,"v":0.005},{"x0":45,"x1":54,"y0":72,"y1":81,"v":0.008},{"x0":54,"x1":63,"y0":72,"y1":81,"v":0.008},{"x0":63,"x1":72,"y0":72,"y1":81,"v":0.003},
{"x0":0,"x1":9,"y0":81,"y1":90,"v":-0.001},{"x0":9,"x1":18,"y0":81,"y1":90,"v":-0.002},{"x0":18,"x1":27,"y0":81,"y1":90,"v":-0.001},{"x0":27,"x1":36,"y0":81,"y1":90,"v":0.001},{"x0":36,"x1":45,"y0":81,"y1":90,"v":0.003},{"x0":45,"x1":54,"y0":81,"y1":90,"v":0.005},{"x0":54,"x1":63,"y0":81,"y1":90,"v":0.005},{"x0":63,"x1":72,"y0":81,"y1":90,"v":0.002},
{"x0":0,"x1":9,"y0":90,"y1":99,"v":-0.001},{"x0":9,"x1":18,"y0":90,"y1":99,"v":-0.001},{"x0":18,"x1":27,"y0":90,"y1":99,"v":-0.001},{"x0":27,"x1":36,"y0":90,"y1":99,"v":0.001},{"x0":36,"x1":45,"y0":90,"y1":99,"v":0.002},{"x0":45,"x1":54,"y0":90,"y1":99,"v":0.003},{"x0":54,"x1":63,"y0":90,"y1":99,"v":0.003},{"x0":63,"x1":72,"y0":90,"y1":99,"v":0.001},
{"x0":0,"x1":9,"y0":99,"y1":108,"v":0},{"x0":9,"x1":18,"y0":99,"y1":108,"v":-0.001},{"x0":18,"x1":27,"y0":99,"y1":108,"v":0},{"x0":27,"x1":36,"y0":99,"y1":108,"v":0},{"x0":36,"x1":45,"y0":99,"y1":108,"v":0.001},{"x0":45,"x1":54,"y0":99,"y1":108,"v":0.002},{"x0":54,"x1":63,"y0":99,"y1":108,"v":0.002},{"x0":63,"x1":72,"y0":99,"y1":108,"v":0.001},
{"x0":0,"x1":9,"y0":108,"y1":117,"v":0},{"x0":9,"x1":18,"y0":108,"y1":117,"v":0},{"x0":18,"x1":27,"y0":108,"y1":117,"v":0},{"x0":27,"x1":36,"y0":108,"y1":117,"v":0},{"x0":36,"x1":45,"y0":108,"y1":117,"v":0.001},{"x0":45,"x1":54,"y0":108,"y1":117,"v":0.001},{"x0":54,"x1":63,"y0":108,"y1":117,"v":0.001},{"x0":63,"x1":72,"y0":108,"y1":117,"v":0},
{"x0":0,"x1":9,"y0":117,"y1":126,"v":0},{"x0":9,"x1":18,"y0":117,"y1":126,"v":0},{"x0":18,"x1":27,"y0":117,"y1":126,"v":0},{"x0":27,"x1":36,"y0":117,"y1":126,"v":0},{"x0":36,"x1":45,"y0":117,"y1":126,"v":0},{"x0":45,"x1":54,"y0":117,"y1":126,"v":0},{"x0":54,"x1":63,"y0":117,"y1":126,"v":0},{"x0":63,"x1":72,"y0":117,"y1":126,"v":0},
{"x0":0,"x1":9,"y0":126,"y1":135,"v":0},{"x0":9,"x1":18,"y0":126,"y1":135,"v":0},{"x0":18,"x1":27,"y0":126,"y1":135,"v":0},{"x0":27,"x1":36,"y0":126,"y1":135,"v":0},{"x0":36,"x1":45,"y0":126,"y1":135,"v":0},{"x0":45,"x1":54,"y0":126,"y1":135,"v":0},{"x0":54,"x1":63,"y0":126,"y1":135,"v":0},{"x0":63,"x1":72,"y0":126,"y1":135,"v":0},
{"x0":0,"x1":9,"y0":135,"y1":144,"v":0},{"x0":9,"x1":18,"y0":135,"y1":144,"v":0},{"x0":18,"x1":27,"y0":135,"y1":144,"v":0},{"x0":27,"x1":36,"y0":135,"y1":144,"v":0},{"x0":36,"x1":45,"y0":135,"y1":144,"v":0},{"x0":45,"x1":54,"y0":135,"y1":144,"v":0},{"x0":54,"x1":63,"y0":135,"y1":144,"v":0},{"x0":63,"x1":72,"y0":135,"y1":144,"v":0},
{"x0":72,"x1":78,"y0":72,"y1":78,"v":0},{"x0":78,"x1":84,"y0":72,"y1":78,"v":0},{"x0":84,"x1":90,"y0":72,"y1":78,"v":0},{"x0":90,"x1":96,"y0":72,"y1":78,"v":0},{"x0":96,"x1":102,"y0":72,"y1":78,"v":0},{"x0":102,"x1":108,"y0":72,"y1":78,"v":0},{"x0":108,"x1":114,"y0":72,"y1":78,"v":0},{"x0":114,"x1":120,"y0":72,"y1":78,"v":0},{"x0":120,"x1":126,"y0":72,"y1":78,"v":0},{"x0":126,"x1":132,"y0":72,"y1":78,"v":0},{"x0":132,"x1":138,"y0":72,"y1":78,"v":0},{"x0":138,"x1":144,"y0":72,"y1":78,"v":0},
{"x0":72,"x1":78,"y0":78,"y1":84,"v":0},{"x0":78,"x1":84,"y0":78,"y1":84,"v":0},{"x0":84,"x1":90,"y0":78,"y1":84,"v":0},{"x0":90,"x1":96,"y0":78,"y1":84,"v":0},{"x0":96,"x1":102,"y0":78,"y1":84,"v":0},{"x0":102,"x1":108,"y0":78,"y1":84,"v":0},{"x0":108,"x1":114,"y0":78,"y1":84,"v":0},{"x0":114,"x1":120,"y0":78,"y1":84,"v":0},{"x0":120,"x1":126,"y0":78,"y1":84,"v":0},{"x0":126,"x1":132,"y0":78,"y1":84,"v":0},{"x0":132,"x1":138,"y0":78,"y1":84,"v":0},{"x0":138,"x1":144,"y0":78,"y1":84,"v":0},
{"x0":72,"x1":78,"y0":84,"y1":90,"v":0},{"x0":78,"x1":84,"y0":84,"y1":90,"v":0},{"x0":84,"x1":90,"y0":84,"y1":90,"v":0},{"x0":90,"x1":96,"y0":84,"y1":90,"v":0},{"x0":96,"x1":102,"y0":84,"y1":90,"v":0},{"x0":102,"x1":108,"y0":84,"y1":90,"v":0},{"x0":108,"x1":114,"y0":84,"y1":90,"v":0},{"x0":114,"x1":120,"y0":84,"y1":90,"v":0},{"x0":120,"x1":126,"y0":84,"y1":90,"v":0},{"x0":126,"x1":132,"y0":84,"y1":90,"v":0},{"x0":132,"x1":138,"y0":84,"y1":90,"v":0},{"x0":138,"x1":144,"y0":84,"y1":90,"v":0},
{"x0":72,"x1":78,"y0":90,"y1":96,"v":0},{"x0":78,"x1":84,"y0":90,"y1":96,"v":0},{"x0":84,"x1":90,"y0":90,"y1":96,"v":0},{"x0":90,"x1":96,"y0":90,"y1":96,"v":0},{"x0":96,"x1":102,"y0":90,"y1":96,"v":0},{"x0":102,"x1":108,"y0":90,"y1":96,"v":0},{"x0":108,"x1":114,"y0":90,"y1":96,"v":0},{"x0":114,"x1":120,"y0":90,"y1":96,"v":0},{"x0":120,"x1":126,"y0":90,"y1":96,"v":0},{"x0":126,"x1":132,"y0":90,"y1":96,"v":0},{"x0":132,"x1":138,"y0":90,"y1":96,"v":0},{"x0":138,"x1":144,"y0":90,"y1":96,"v":0},
{"x0":72,"x1":78,"y0":96,"y1":102,"v":0},{"x0":78,"x1":84,"y0":96,"y1":102,"v":0},{"x0":84,"x1":90,"y0":96,"y1":102,"v":0},{"x0":90,"x1":96,"y0":96,"y1":102,"v":0},{"x0":96,"x1":102,"y0":96,"y1":102,"v":0},{"x0":102,"x1":108,"y0":96,"y1":102,"v":0},{"x0":108,"x1":114,"y0":96,"y1":102,"v":0},{"x0":114,"x1":120,"y0":96,"y1":102,"v":0},{"x0":120,"x1":126,"y0":96,"y1":102,"v":0},{"x0":126,"x1":132,"y0":96,"y1":102,"v":0},{"x0":132,"x1":138,"y0":96,"y1":102,"v":0},{"x0":138,"x1":144,"y0":96,"y1":102,"v":0},
{"x0":72,"x1":78,"y0":102,"y1":108,"v":0},{"x0":78,"x1":84,"y0":102,"y1":108,"v":0},{"x0":84,"x1":90,"y0":102,"y1":108,"v":0},{"x0":90,"x1":96,"y0":102,"y1":108,"v":0},{"x0":96,"x1":102,"y0":102,"y1":108,"v":0},{"x0":102,"x1":108,"y0":102,"y1":108,"v":0},{"x0":108,"x1":114,"y0":102,"y1":108,"v":0},{"x0":114,"x1":120,"y0":102,"y1":108,"v":0},{"x0":120,"x1":126,"y0":102,"y1":108,"v":0},{"x0":126,"x1":132,"y0":102,"y1":108,"v":0},{"x0":132,"x1":138,"y0":102,"y1":108,"v":0},{"x0":138,"x1":144,"y0":102,"y1":108,"v":0},
{"x0":72,"x1":78,"y0":108,"y1":114,"v":0},{"x0":78,"x1":84,"y0":108,"y1":114,"v":0},{"x0":84,"x1":90,"y0":108,"y1":114,"v":0},{"x0":90,"x1":96,"y0":108,"y1":114,"v":0},{"x0":96,"x1":102,"y0":108,"y1":114,"v":0},{"x0":102,"x1":108,"y0":108,"y1":114,"v":0},{"x0":108,"x1":114,"y0":108,"y1":114,"v":0},{"x0":114,"x1":120,"y0":108,"y1":114,"v":0},{"x0":120,"x1":126,"y0":108,"y1":114,"v":0},{"x0":126,"x1":132,"y0":108,"y1":114,"v":0},{"x0":132,"x1":138,"y0":108,"y1":114,"v":0},{"x0":138,"x1":144,"y0":108,"y1":114,"v":0},
{"x0":72,"x1":78,"y0":114,"y1":120,"v":0},{"x0":78,"x1":84,"y0":114,"y1":120,"v":0},{"x0":84,"x1":90,"y0":114,"y1":120,"v":0},{"x0":90,"x1":96,"y0":114,"y1":120,"v":0},{"x0":96,"x1":102,"y0":114,"y1":120,"v":0},{"x0":102,"x1":108,"y0":114,"y1":120,"v":0},{"x0":108,"x1":114,"y0":114,"y1":120,"v":0},{"x0":114,"x1":120,"y0":114,"y1":120,"v":0},{"x0":120,"x1":126,"y0":114,"y1":120,"v":0},{"x0":126,"x1":132,"y0":114,"y1":120,"v":0},{"x0":132,"x1":138,"y0":114,"y1":120,"v":0},{"x0":138,"x1":144,"y0":114,"y1":120,"v":0},
{"x0":72,"x1":78,"y0":120,"y1":126,"v":0},{"x0":78,"x1":84,"y0":120,"y1":126,"v":0},{"x0":84,"x1":90,"y0":120,"y1":126,"v":0},{"x0":90,"x1":96,"y0":120,"y1":126,"v":0},{"x0":96,"x1":102,"y0":120,"y1":126,"v":0},{"x0":102,"x1":108,"y0":120,"y1":126,"v":0},{"x0":108,"x1":114,"y0":120,"y1":126,"v":0},{"x0":114,"x1":120,"y0":120,"y1":126,"v":0},{"x0":120,"x1":126,"y0":120,"y1":126,"v":0},{"x0":126,"x1":132,"y0":120,"y1":126,"v":0},{"x0":132,"x1":138,"y0":120,"y1":126,"v":0},{"x0":138,"x1":144,"y0":120,"y1":126,"v":0},
{"x0":72,"x1":78,"y0":126,"y1":132,"v":0},{"x0":78,"x1":84,"y0":126,"y1":132,"v":0},{"x0":84,"x1":90,"y0":126,"y1":132,"v":0},{"x0":90,"x1":96,"y0":126,"y1":132,"v":0},{"x0":96,"x1":102,"y0":126,"y1":132,"v":0},{"x0":102,"x1":108,"y0":126,"y1":132,"v":0},{"x0":108,"x1":114,"y0":126,"y1":132,"v":0},{"x0":114,"x1":120,"y0":126,"y1":132,"v":0},{"x0":120,"x1":126,"y0":126,"y1":132,"v":0},{"x0":126,"x1":132,"y0":126,"y1":132,"v":0},{"x0":132,"x1":138,"y0":126,"y1":132,"v":0},{"x0":138,"x1":144,"y0":126,"y1":132,"v":0},
{"x0":72,"x1":78,"y0":132,"y1":138,"v":0},{"x0":78,"x1":84,"y0":132,"y1":138,"v":0},{"x0":84,"x1":90,"y0":132,"y1":138,"v":0},{"x0":90,"x1":96,"y0":132,"y1":138,"v":0},{"x0":96,"x1":102,"y0":132,"y1":138,"v":0},{"x0":102,"x1":108,"y0":132,"y1":138,"v":0},{"x0":108,"x1":114,"y0":132,"y1":138,"v":0},{"x0":114,"x1":120,"y0":132,"y1":138,"v":0},{"x0":120,"x1":126,"y0":132,"y1":138,"v":0},{"x0":126,"x1":132,"y0":132,"y1":138,"v":0},{"x0":132,"x1":138,"y0":132,"y1":138,"v":0},{"x0":138,"x1":144,"y0":132,"y1":138,"v":0},
{"x0":72,"x1":78,"y0":138,"y1":144,"v":0},{"x0":78,"x1":84,"y0":138,"y1":144,"v":0},{"x0":84,"x1":90,"y0":138,"y1":144,"v":0},{"x0":90,"x1":96,"y0":138,"y1":144,"v":0},{"x0":96,"x1":102,"y0":138,"y1":144,"v":0},{"x0":102,"x1":108,"y0":138,"y1":144,"v":0},{"x0":108,"x1":114,"y0":138,"y1":144,"v":0},{"x0":114,"x1":120,"y0":138,"y1":144,"v":0},{"x0":120,"x1":126,"y0":138,"y1":144,"v":0},{"x0":126,"x1":132,"y0":138,"y1":144,"v":0},{"x0":132,"x1":138,"y0":138,"y1":144,"v":0},{"x0":138,"x1":144,"y0":138,"y1":144,"v":0}
],
"bar":[
{"a":-0.044,"b":-0.0423,"v":-0.0431},{"a":-0.0423,"b":-0.0405,"v":-0.0414},{"a":-0.0405,"b":-0.0388,"v":-0.0396},{"a":-0.0388,"b":-0.037,"v":-0.0379},{"a":-0.037,"b":-0.0353,"v":-0.0361},{"a":-0.0353,"b":-0.0335,"v":-0.0344},{"a":-0.0335,"b":-0.0318,"v":-0.0326},{"a":-0.0318,"b":-0.03,"v":-0.0309},{"a":-0.03,"b":-0.0283,"v":-0.0291},{"a":-0.0283,"b":-0.0265,"v":-0.0274},{"a":-0.0265,"b":-0.0248,"v":-0.0256},{"a":-0.0248,"b":-0.023,"v":-0.0239},{"a":-0.023,"b":-0.0213,"v":-0.0221},{"a":-0.0213,"b":-0.0195,"v":-0.0204},{"a":-0.0195,"b":-0.0178,"v":-0.0186},{"a":-0.0178,"b":-0.016,"v":-0.0169},{"a":-0.016,"b":-0.0143,"v":-0.0151},{"a":-0.0143,"b":-0.0125,"v":-0.0134},{"a":-0.0125,"b":-0.0108,"v":-0.0116},{"a":-0.0108,"b":-0.009,"v":-0.0099},{"a":-0.009,"b":-0.0073,"v":-0.0081},{"a":-0.0073,"b":-0.0055,"v":-0.0064},{"a":-0.0055,"b":-0.0038,"v":-0.0046},{"a":-0.0038,"b":-0.002,"v":-0.0029},{"a":-0.002,"b":-0.0003,"v":-0.0011},{"a":-0.0003,"b":0.0015,"v":0.0006},{"a":0.0015,"b":0.0032,"v":0.0024},{"a":0.0032,"b":0.005,"v":0.0041},{"a":0.005,"b":0.0067,"v":0.0059},{"a":0.0067,"b":0.0085,"v":0.0076},{"a":0.0085,"b":0.0102,"v":0.0094},{"a":0.0102,"b":0.012,"v":0.0111},{"a":0.012,"b":0.0137,"v":0.0129},{"a":0.0137,"b":0.0155,"v":0.0146},{"a":0.0155,"b":0.0172,"v":0.0164},{"a":0.0172,"b":0.019,"v":0.0181},{"a":0.019,"b":0.0207,"v":0.0199},{"a":0.0207,"b":0.0225,"v":0.0216},{"a":0.0225,"b":0.0242,"v":0.0234},{"a":0.0242,"b":0.026,"v":0.0251},{"a":0.026,"b":0.0277,"v":0.0269},{"a":0.0277,"b":0.0295,"v":0.0286},{"a":0.0295,"b":0.0312,"v":0.0304},{"a":0.0312,"b":0.033,"v":0.0321},{"a":0.033,"b":0.0347,"v":0.0339},{"a":0.0347,"b":0.0365,"v":0.0356},{"a":0.0365,"b":0.0382,"v":0.0374},{"a":0.0382,"b":0.04,"v":0.0391},{"a":0.04,"b":0.0417,"v":0.0409},{"a":0.0417,"b":0.0435,"v":0.0426},{"a":0.0435,"b":0.0452,"v":0.0444},{"a":0.0452,"b":0.047,"v":0.0461},{"a":0.047,"b":0.0487,"v":0.0479},{"a":0.0487,"b":0.0505,"v":0.0496},{"a":0.0505,"b":0.0522,"v":0.0514},{"a":0.0522,"b":0.054,"v":0.0531},{"a":0.054,"b":0.0557,"v":0.0549},{"a":0.0557,"b":0.0575,"v":0.0566},{"a":0.0575,"b":0.0592,"v":0.0584},{"a":0.0592,"b":0.061,"v":0.0601},{"a":0.061,"b":0.0627,"v":0.0619},{"a":0.0627,"b":0.0645,"v":0.0636},{"a":0.0645,"b":0.0662,"v":0.0654},{"a":0.0662,"b":0.068,"v":0.0671},{"a":0.068,"b":0.0697,"v":0.0689},{"a":0.0697,"b":0.0715,"v":0.0706},{"a":0.0715,"b":0.0732,"v":0.0724},{"a":0.0732,"b":0.075,"v":0.0741}
],
"ticks":[{"value":-0.044},{"value":0.015},{"value":0.075}]
},
"vconcat":[
{"width":701,"height":700,
"layer":[
{"data":{"name":"elements"},"mark":{"type":"rect"},"encoding":{"x":{"field":"x0","type":"quantitative","axis":null,"scale":{"domain":[0,144],"nice":false,"zero":false}},"x2":{"field":"x1"},"y":{"field":"y0","type":"quantitative","axis":null,"scale":{"domain":[0,144],"nice":false,"zero":false,"reverse":true}},"y2":{"field":"y1"},"color":{"field":"v","type":"quantitative","legend":null,"scale":{"type":"linear","domain":[-0.044,-0.0143,0.0155,0.0453,0.075],"range":["#0000be","#00c8c8","#00c800","#c8c800","#c80000"],"interpolate":"rgb","clamp":true}}}},
{"data":{"name":"fine"},"mark":{"type":"rect","strokeWidth":0.6},"encoding":{"x":{"field":"x0","type":"quantitative"},"x2":{"field":"x1"},"y":{"field":"y0","type":"quantitative"},"y2":{"field":"y1"},"color":{"field":"v","type":"quantitative","legend":null},"stroke":{"field":"v","type":"quantitative","legend":null,"scale":{"type":"linear","domain":[-0.044,-0.0143,0.0155,0.0453,0.075],"range":["#0000be","#00c8c8","#00c800","#c8c800","#c80000"],"interpolate":"rgb","clamp":true}}}},
{"data":{"name":"elements"},"mark":{"type":"rect","filled":false,"stroke":"#333333","strokeWidth":1.15},"encoding":{"x":{"field":"x0","type":"quantitative"},"x2":{"field":"x1"},"y":{"field":"y0","type":"quantitative"},"y2":{"field":"y1"}}}
]},
{"width":701,"height":34,
"layer":[
{"data":{"name":"bar"},"mark":{"type":"rect","strokeWidth":0.5},"encoding":{"x":{"field":"a","type":"quantitative","scale":{"domain":[-0.15713,0.15945],"nice":false,"zero":false},"axis":{"orient":"top","values":[-0.044,0.015,0.075],"labelExpr":"datum.value < 0 ? '-4.4e-02' : (datum.value < 0.05 ? '0.015' : '7.5e-02')","domain":false,"ticks":false,"grid":false,"labelFont":"Lato","labelFontSize":38,"labelColor":"#000000","labelPadding":8,"labelOverlap":false,"labelFlush":false,"labelBound":false,"title":"Rotation","titleFont":"Lato","titleFontSize":42,"titleFontWeight":"normal","titleColor":"#000000","titleX":382.5,"titlePadding":4}},"x2":{"field":"b"},"y":{"datum":18,"type":"quantitative","axis":null,"scale":{"domain":[0,34],"nice":false,"zero":false,"reverse":true}},"y2":{"datum":34},"color":{"field":"v","type":"quantitative","legend":null,"scale":{"type":"linear","domain":[-0.044,-0.0143,0.0155,0.0453,0.075],"range":["#0000ff","#00ffff","#00ff00","#ffff00","#ff0000"],"interpolate":"rgb","clamp":true}},"stroke":{"field":"v","type":"quantitative","legend":null,"scale":{"type":"linear","domain":[-0.044,-0.0143,0.0155,0.0453,0.075],"range":["#0000ff","#00ffff","#00ff00","#ffff00","#ff0000"],"interpolate":"rgb","clamp":true}}}},
{"data":{"name":"ticks"},"mark":{"type":"rule","color":"#000000","strokeWidth":1},"encoding":{"x":{"field":"value","type":"quantitative"},"y":{"datum":0,"type":"quantitative"},"y2":{"datum":26}}}
]}
]}
